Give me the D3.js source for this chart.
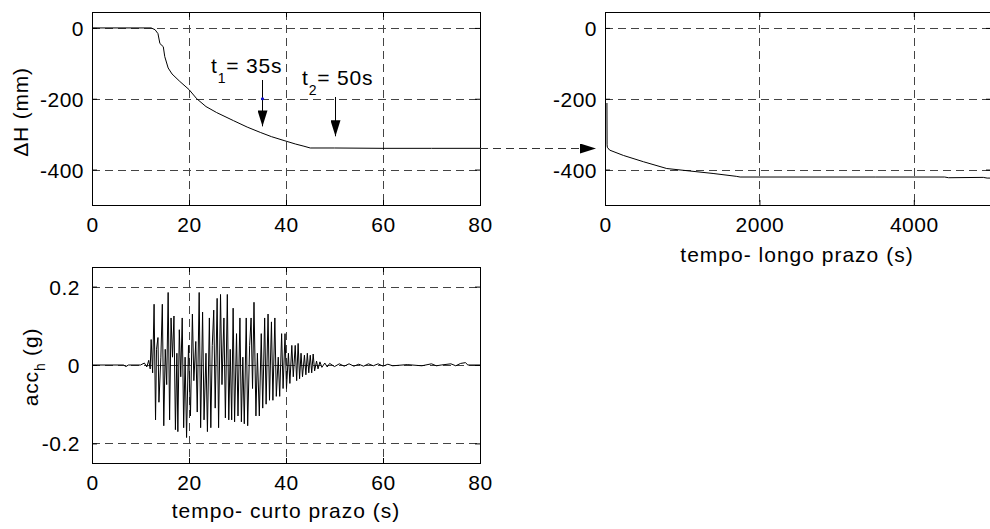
<!DOCTYPE html>
<html>
<head>
<meta charset="utf-8">
<script src="https://d3js.org/d3.v7.min.js"></script>
<style>
  body { margin: 0; background: #fff; }
  svg { display: block; font-family: "Liberation Sans", Arial, sans-serif; }
</style>
</head>
<body>
<div id="chart"></div>
<script>
const width = 990;
const height = 529;

// short-term settlement (s, mm)
const shortT = [0, 12.2, 13, 13.6, 14, 14.7, 15, 15.7, 16.5, 18.1, 20, 21.6, 23.5, 25.7, 29.2, 32, 34.7, 37, 39.6, 42, 43.7, 45, 50, 60, 70, 80];
const shortH = [0, 0, -5, -16, -44, -53, -81, -113, -130, -151, -174, -200, -222, -239, -262, -280, -295, -307, -318, -328, -334, -339, -339, -340, -340, -340];

// long-term settlement (s, mm)
const longT = [25, 27, 30, 60, 238, 500, 800, 1100, 1400, 1700, 1750, 2500, 3500, 4400, 4450, 4900, 4950, 5000];
const longH = [-212, -330, -337, -345, -360, -378, -397, -404, -411, -419, -421, -421, -421, -421, -423, -422, -424, -424];

// horizontal acceleration (s, g)
const accT = [0, 6.5, 7, 7.5, 10, 10.8, 11.3, 11.7, 12.0, 12.2, 12.5, 12.8, 13.1, 13.3, 13.6, 13.8, 14.2, 14.5, 14.8, 15.1,
  15.4, 15.7, 16.0, 16.3, 16.6, 16.9, 17.2, 17.5, 17.7, 18.0, 18.3, 18.6, 18.9, 19.2, 19.5, 19.9, 20.3, 20.7, 21.0, 21.4,
  21.7, 22.1, 22.4, 22.8, 23.1, 23.5, 23.8, 24.2, 24.5, 24.8, 25.1, 25.4, 25.8, 26.1, 26.5, 26.8, 27.2, 27.5, 27.9, 28.2,
  28.5, 28.8, 29.1, 29.4, 29.8, 30.1, 30.5, 30.8, 31.1, 31.4, 31.8, 32.1, 32.5, 32.8, 33.1, 33.4, 33.8, 34.1, 34.5, 34.9,
  35.2, 35.6, 35.9, 36.3, 36.6, 37.0, 37.3, 37.7, 38.0, 38.4, 38.7, 39.1, 39.4, 39.8, 40.1, 40.5, 40.8, 41.2, 41.5, 41.9,
  42.2, 42.5, 42.8, 43.1, 43.4, 43.8, 44.1, 44.4, 44.7, 45.0, 45.3, 45.6, 45.9, 46.3, 46.6, 47, 47.4, 48, 48.5, 49,
  50, 51, 52, 53, 54, 55, 56, 57, 58, 59, 60, 61, 62, 65, 68, 70, 71, 72, 74, 75, 76, 77, 77.5, 80];
const accA = [0, 0, -0.004, 0, 0, 0.005, -0.005, 0.012, -0.01, 0.065, -0.02, 0.155, -0.14, 0.04, 0.07, -0.095, 0.02, 0.155, -0.155, 0.04,
  -0.05, 0.185, -0.14, 0.12, 0.02, 0.125, -0.165, 0.03, -0.17, 0.09, -0.03, 0.12, -0.16, 0.02, -0.185, 0.05, -0.13, 0.13, -0.04, 0.06,
  -0.12, 0.185, -0.16, 0.135, -0.14, 0.03, -0.17, 0.12, -0.16, 0.05, 0.14, -0.11, 0.17, -0.16, 0.18, -0.05, 0.12, -0.135, 0.18, -0.14,
  0.04, -0.14, 0.145, -0.145, 0.08, -0.13, 0.12, -0.145, 0.02, -0.15, 0.12, -0.155, 0.05, 0.12, -0.06, 0.16, -0.13, 0.03, -0.13, 0.08,
  -0.11, 0.12, -0.1, 0.13, -0.09, 0.11, -0.09, 0.12, -0.08, 0.02, -0.08, 0.08, -0.06, 0.08, -0.06, 0.03, -0.047, 0.05, -0.03, 0.05,
  -0.04, 0.055, -0.035, 0.03, -0.03, 0.025, -0.025, 0.03, -0.02, 0.025, -0.02, 0.028, -0.015, 0.01, -0.01, 0.008, -0.006, 0.005, -0.005, 0.004,
  -0.004, 0.003, -0.003, 0.003, -0.003, 0.002, -0.003, 0.003, -0.002, 0.003, -0.003, 0.002, -0.002, 0.001, -0.002, 0.003, -0.002, 0, 0.003, -0.002, 0.004, 0.006, 0, 0];

const shortTicksX = [0, 20, 40, 60, 80];
const longTicksX = [0, 2000, 4000];
const hTicksY = [0, -200, -400];
const accTicksY = [0.2, 0, -0.2];

// annotation markers: t1 = 35 s, t2 = 50 s
const marks = [
  { t: 35, sub: "1", label: "= 35s", from: -147, to: -278, tx: 211, ty: 73 },
  { t: 50, sub: "2", label: "= 50s", from: -195, to: -306, tx: 302, ty: 85 },
];

const FS = 21;
// plain hyphen for negatives, like the original figure
const fmtInt = (d) => String(d);
const fmtAcc = (d) => (d === 0 ? "0" : d.toFixed(1));

const svg = d3.select("#chart").append("svg").attr("width", width).attr("height", height);

svg.append("defs").append("marker")
  .attr("id", "head")
  .attr("viewBox", "0 0 16 10")
  .attr("refX", 16).attr("refY", 5)
  .attr("markerWidth", 16).attr("markerHeight", 10)
  .attr("markerUnits", "userSpaceOnUse")
  .attr("orient", "auto")
  .append("path").attr("d", "M0,0 L16,5 L0,10 Z").attr("fill", "#000");

let clipId = 0;
function panel(left, right, top, bottom, xDomain, yDomain, xTicks, yTicks, fmtY, yPad) {
  const x = d3.scaleLinear().domain(xDomain).range([left, right]);
  const y = d3.scaleLinear().domain(yDomain).range([bottom, top]);
  const g = svg.append("g");

  const id = "clip" + clipId++;
  svg.select("defs").append("clipPath").attr("id", id)
    .append("rect").attr("x", left).attr("y", top).attr("width", right - left).attr("height", bottom - top);

  // grid
  g.selectAll(".gx").data(xTicks.filter((d) => d !== xDomain[0])).enter().append("line")
    .attr("x1", (d) => Math.round(x(d)) + 0.5).attr("x2", (d) => Math.round(x(d)) + 0.5)
    .attr("y1", top).attr("y2", bottom)
    .attr("stroke", "#444").attr("stroke-dasharray", "8,5");
  g.selectAll(".gy").data(yTicks).enter().append("line")
    .attr("y1", (d) => Math.round(y(d)) + 0.5).attr("y2", (d) => Math.round(y(d)) + 0.5)
    .attr("x1", left).attr("x2", right)
    .attr("stroke", "#444").attr("stroke-dasharray", "8,5");

  // inward ticks
  const xAxis = d3.axisBottom(x).tickValues(xTicks).tickSize(-5).tickFormat(fmtInt);
  const yAxis = d3.axisLeft(y).tickValues(yTicks).tickSize(-5).tickPadding(yPad).tickFormat(fmtY);
  const ax = g.append("g").attr("transform", "translate(0," + bottom + ")").call(xAxis);
  const ay = g.append("g").attr("transform", "translate(" + left + ",0)").call(yAxis);
  g.append("g").attr("transform", "translate(0," + top + ")")
    .call(d3.axisTop(x).tickValues(xTicks).tickSize(-5).tickFormat(""));
  g.append("g").attr("transform", "translate(" + right + ",0)")
    .call(d3.axisRight(y).tickValues(yTicks).tickSize(-5).tickFormat(""));
  g.selectAll(".domain").remove();
  g.selectAll(".tick line").attr("stroke", "#000");
  g.selectAll("g").attr("font-family", null).attr("font-size", null);
  [ax, ay].forEach((a) => a.selectAll("text").attr("font-size", FS).attr("fill", "#000").attr("letter-spacing", 0.5));
  ax.selectAll("text").attr("y", 27).attr("dy", 0);
  ay.selectAll("text").attr("dy", "0.36em");

  g.append("rect")
    .attr("x", left + 0.5).attr("y", top + 0.5)
    .attr("width", right - left).attr("height", bottom - top)
    .attr("fill", "none").attr("stroke", "#000");

  return { x, y, g, clip: "url(#" + id + ")" };
}

// top left: short-term settlement
const p1 = panel(92, 480, 12, 205, [0, 80], [-500, 45], shortTicksX, hTicksY, fmtInt, 8);
p1.g.append("path")
  .datum(shortT.map((t, i) => [t, shortH[i]]))
  .attr("clip-path", p1.clip)
  .attr("fill", "none").attr("stroke", "#000").attr("stroke-width", 1)
  .attr("d", d3.line().x((d) => p1.x(d[0])).y((d) => p1.y(d[1])));

marks.forEach((m) => {
  const xx = Math.round(p1.x(m.t)) + 0.5;
  p1.g.append("line")
    .attr("x1", xx).attr("x2", xx)
    .attr("y1", p1.y(m.from)).attr("y2", p1.y(m.to))
    .attr("stroke", "#000").attr("marker-end", "url(#head)");
  const txt = p1.g.append("text").attr("x", m.tx).attr("y", m.ty).attr("font-size", FS).attr("letter-spacing", 0.8);
  txt.append("tspan").text("t");
  txt.append("tspan").attr("dy", 10).attr("font-size", 14).text(m.sub);
  txt.append("tspan").attr("dy", -10).text(m.label);
});
p1.g.append("circle").attr("cx", Math.round(p1.x(35)) + 0.5).attr("cy", p1.y(-200)).attr("r", 1.6).attr("fill", "#1010d0");

p1.g.append("text")
  .attr("transform", "translate(28,112) rotate(-90)")
  .attr("text-anchor", "middle").attr("font-size", FS).attr("letter-spacing", 0.8)
  .text("ΔH (mm)");

// top right: long-term settlement
const p2 = panel(605, 991, 12, 205, [0, 5000], [-500, 45], longTicksX, hTicksY, fmtInt, 8);
p2.g.append("path")
  .datum(longT.map((t, i) => [t, longH[i]]))
  .attr("clip-path", p2.clip)
  .attr("fill", "none").attr("stroke", "#000").attr("stroke-width", 1)
  .attr("d", d3.line().x((d) => p2.x(d[0])).y((d) => p2.y(d[1])));
p2.g.append("text")
  .attr("x", 797).attr("y", 262)
  .attr("text-anchor", "middle").attr("font-size", FS).attr("letter-spacing", 1)
  .text("tempo- longo prazo (s)");

// dashed link arrow between the two settlement panels
svg.append("line")
  .attr("x1", 480).attr("x2", 596)
  .attr("y1", Math.round(p1.y(-340)) + 0.5).attr("y2", Math.round(p1.y(-340)) + 0.5)
  .attr("stroke", "#333").attr("stroke-dasharray", "8,5")
  .attr("marker-end", "url(#head)");

// bottom left: horizontal acceleration
const p3 = panel(92, 480, 267, 463, [0, 80], [-0.25, 0.25], shortTicksX, accTicksY, fmtAcc, 12);
p3.g.append("path")
  .datum(accT.map((t, i) => [t, accA[i]]))
  .attr("clip-path", p3.clip)
  .attr("fill", "none").attr("stroke", "#000").attr("stroke-width", 1)
  .attr("d", d3.line().x((d) => p3.x(d[0])).y((d) => p3.y(d[1])));

const accLabel = p3.g.append("text")
  .attr("transform", "translate(38,367) rotate(-90)")
  .attr("text-anchor", "middle").attr("font-size", FS).attr("letter-spacing", 0.8);
accLabel.append("tspan").text("acc");
accLabel.append("tspan").attr("dy", 7).attr("font-size", 14).text("h");
accLabel.append("tspan").attr("dy", -7).text(" (g)");

p3.g.append("text")
  .attr("x", 286).attr("y", 518)
  .attr("text-anchor", "middle").attr("font-size", FS).attr("letter-spacing", 1)
  .text("tempo- curto prazo (s)");
</script>
</body>
</html>
